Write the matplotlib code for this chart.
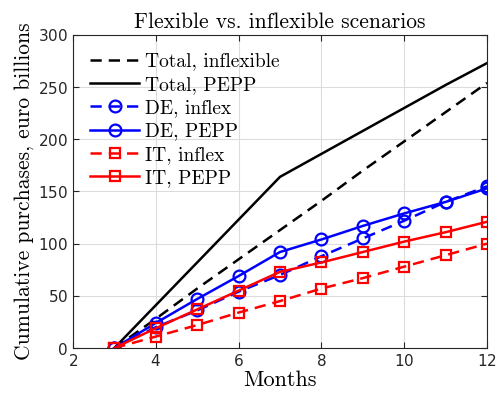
import matplotlib.pyplot as plt

# Cumulative purchases (euro billions) by month
months = [3, 4, 5, 6, 7, 8, 9, 10, 11, 12]
total_inflex = [0, 28, 57, 85, 113, 141, 170, 198, 226, 254]
total_pepp = [0, 41, 82, 123, 164, 186, 208, 230, 252, 273]
de_inflex = [0, 20, 36, 54, 70, 88, 105, 122, 140, 155]
de_pepp = [0, 24, 47, 69, 92, 104, 117, 129, 140, 153]
it_inflex = [0, 11, 22, 34, 45, 57, 67, 78, 89, 100]
it_pepp = [0, 19, 37, 55, 73, 82, 92, 102, 111, 121]

serif = 'cmr10'
plt.rcParams['axes.formatter.use_mathtext'] = True
dash = (4.5, 2.8)

fig = plt.figure(figsize=(4.96, 4.01), dpi=100)
ax = fig.add_axes([0.147, 0.132, 0.835, 0.781])

ax.plot(months, total_inflex, 'k--', lw=1.8, dashes=dash, label='Total, inflexible')
ax.plot(months, total_pepp, 'k-', lw=1.8, label='Total, PEPP')
ax.plot(months, de_inflex, '--o', color='blue', lw=1.8, dashes=dash, ms=8.5, mfc='none', mew=1.6, label='DE, inflex')
ax.plot(months, de_pepp, '-o', color='blue', lw=1.8, ms=8.5, mfc='none', mew=1.6, label='DE, PEPP')
ax.plot(months, it_inflex, '--s', color='red', lw=1.8, dashes=dash, ms=6.5, mfc='none', mew=1.6, label='IT, inflex')
ax.plot(months, it_pepp, '-s', color='red', lw=1.8, ms=6.5, mfc='none', mew=1.6, label='IT, PEPP')

ax.set_xlim(2, 12)
ax.set_ylim(0, 300)
ax.set_xticks(range(2, 13, 2))
ax.set_yticks(range(0, 301, 50))
ax.grid(True, color='#dcdcdc', lw=0.8)
ax.set_axisbelow(True)
ax.tick_params(direction='in', labelsize=11, colors='#262626', top=True, right=True, length=4)
for s in ax.spines.values():
    s.set_color('#262626')

ax.set_title('Flexible vs. inflexible scenarios', fontfamily=serif, fontsize=15.5, pad=5)
ax.set_xlabel('Months', fontfamily=serif, fontsize=16, labelpad=1)
ax.set_ylabel('Cumulative purchases, euro billions', fontfamily=serif, fontsize=15.5, labelpad=3)

leg = ax.legend(loc='upper left', frameon=False, prop={'family': serif, 'size': 14},
                handlelength=2.5, labelspacing=0.28, borderaxespad=0.4, handletextpad=0.3,
                borderpad=0.5)

fig.savefig('out.png', dpi=100)
